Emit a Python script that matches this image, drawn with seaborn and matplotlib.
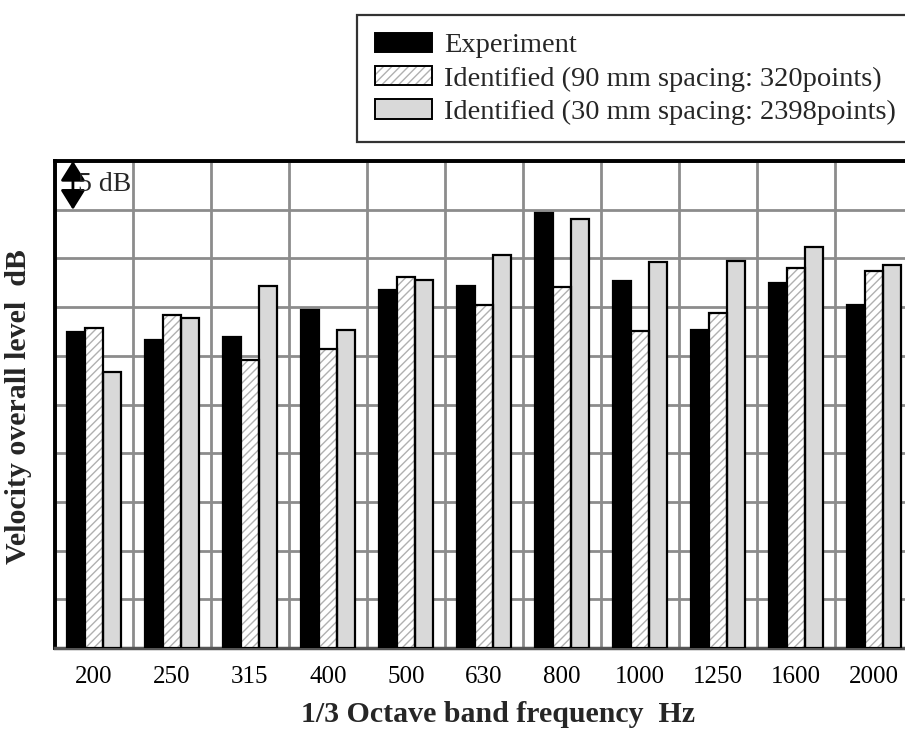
import matplotlib
matplotlib.use("Agg")
import matplotlib.pyplot as plt
from matplotlib.patches import Patch, Rectangle
from matplotlib.legend_handler import HandlerTuple
import seaborn as sns
import pandas as pd

bands = ["200", "250", "315", "400", "500", "630", "800", "1000", "1250", "1600", "2000"]
experiment = [32.4, 31.6, 31.9, 34.7, 36.8, 37.2, 44.7, 37.7, 32.6, 37.5, 35.2]
ident_90mm = [32.9, 34.2, 29.6, 30.7, 38.1, 35.2, 37.1, 32.5, 34.4, 39.0, 38.7]
ident_30mm = [28.3, 33.9, 37.2, 32.6, 37.8, 40.3, 44.0, 39.6, 39.7, 41.2, 39.3]
series_names = ["Experiment",
                "Identified (90 mm spacing: 320points)",
                "Identified (30 mm spacing: 2398points)"]

df = pd.DataFrame({
    "band": bands * 3,
    "level": experiment + ident_90mm + ident_30mm,
    "series": [series_names[0]] * len(bands) + [series_names[1]] * len(bands)
              + [series_names[2]] * len(bands),
})

sns.set_theme(style="white")
plt.rcParams["font.family"] = ["Liberation Serif", "DejaVu Serif"]
plt.rcParams["hatch.linewidth"] = 1.0

fig = plt.figure(figsize=(9.05, 7.31), dpi=100)
ax = fig.add_axes([55 / 905, 83 / 731, 858 / 905, 487 / 731])

palette = {series_names[0]: "black", series_names[1]: "white", series_names[2]: "#d9d9d9"}
sns.barplot(data=df, x="band", y="level", hue="series", order=bands,
            hue_order=series_names, palette=palette, width=0.68,
            edgecolor="black", linewidth=1.6, saturation=1, legend=False,
            ax=ax, zorder=3)

# hatched middle series: gray hatch lines with a black outline on top
hatch_gray = "#b0b0b0"
n = len(bands)
for p in ax.patches[n:2 * n]:
    p.set_hatch("////")
    p.set_edgecolor(hatch_gray)
    p.set_linewidth(0)
    ax.add_patch(Rectangle(p.get_xy(), p.get_width(), p.get_height(),
                           fill=False, edgecolor="black", linewidth=1.6, zorder=3.1))

ax.set_ylim(0, 50)
ax.set_xlim(-0.5, len(bands) - 0.5)
ax.set_yticks(range(0, 51, 5))
ax.set_yticklabels([])
ax.set_xticks(range(len(bands)), minor=False)
ax.set_xticks([i - 0.5 for i in range(len(bands) + 1)], minor=True)
ax.tick_params(axis="both", which="both", length=0)
ax.tick_params(axis="x", which="major", labelsize=18, pad=13, colors="black")
ax.grid(False)
ax.grid(True, axis="y", which="major", color="#8c8c8c", linewidth=2, zorder=0)
ax.grid(True, axis="x", which="minor", color="#8c8c8c", linewidth=2, zorder=0)
ax.set_axisbelow(True)

for side in ["left", "top", "right"]:
    ax.spines[side].set_color("black")
    ax.spines[side].set_linewidth(2.8)
ax.spines["bottom"].set_color("#555555")
ax.spines["bottom"].set_linewidth(2.5)

ax.set_xlabel("1/3 Octave band frequency  Hz", fontsize=21.5, fontweight="bold")
ax.set_ylabel("Velocity overall level  dB", fontsize=21.5, fontweight="bold")
ax.xaxis.set_label_coords((498 - 55) / 858, -0.108)
ax.yaxis.set_label_coords(-0.027, 0.495)

# 5 dB scale marker
ax.annotate("", xy=(-0.27, 50), xytext=(-0.27, 45),
            arrowprops=dict(arrowstyle="<|-|>,head_length=0.4,head_width=0.25",
                            color="black", lw=2, mutation_scale=30,
                            shrinkA=0, shrinkB=0), zorder=5)
ax.text(-0.2, 47.6, "5 dB", fontsize=20, va="center", ha="left", zorder=5)

handles = [
    Patch(facecolor="black", edgecolor="black", linewidth=1.4),
    (Patch(facecolor="white", edgecolor=hatch_gray, hatch="////", linewidth=0),
     Patch(facecolor="none", edgecolor="black", linewidth=1.4)),
    Patch(facecolor="#d9d9d9", edgecolor="black", linewidth=1.4),
]
leg = fig.legend(handles, series_names, loc="upper left",
                 bbox_to_anchor=(357 / 905, 1 - 15 / 731), fontsize=20.5,
                 frameon=True, fancybox=False, edgecolor="black",
                 handlelength=2.0, handleheight=0.68, handletextpad=0.45,
                 labelspacing=0.26, borderpad=0.62, borderaxespad=0,
                 handler_map={tuple: HandlerTuple(ndivide=1, pad=0)})
leg.get_frame().set_linewidth(1.6)

fig.savefig("out.png", dpi=100)
